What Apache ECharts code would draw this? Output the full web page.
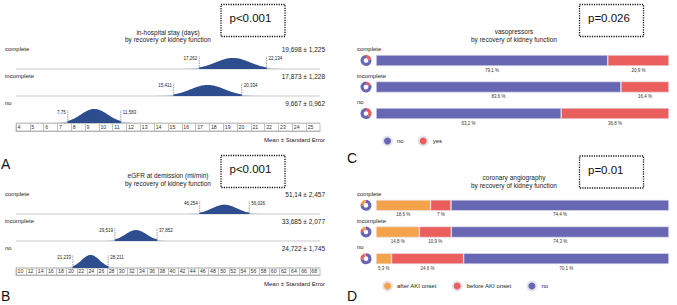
<!DOCTYPE html>
<html>
<head>
<meta charset="UTF-8">
<title>Recovery of kidney function</title>
<script src="https://cdn.jsdelivr.net/npm/echarts@6/dist/echarts.min.js"></script>
<style>
    html, body { margin: 0; padding: 0; background: #fff; }
    #chart { width: 677px; height: 305px; }
</style>
</head>
<body>
<div id="chart"></div>
<script>
    var groups = ['complete', 'incomplete', 'no'];

    // A: in-hospital stay (days), mean, standard error, 95% limits
    var stayMean = [19.698, 17.873, 9.667];
    var staySE = [1.225, 1.228, 0.962];
    var stayLow = [17.262, 15.411, 7.75];
    var stayHigh = [22.134, 20.334, 11.583];

    // B: eGFR at demission (ml/min)
    var egfrMean = [51.14, 33.685, 24.722];
    var egfrSE = [2.457, 2.077, 1.745];
    var egfrLow = [46.254, 29.519, 21.233];
    var egfrHigh = [56.026, 37.852, 28.211];

    // C: vasopressors (%)
    var vasoLabels = ['no', 'yes'];
    var vasoNo = [79.1, 83.6, 63.2];
    var vasoYes = [20.9, 16.4, 36.8];

    // D: coronary angiography (%)
    var coroLabels = ['after AKI onset', 'before AKI onset', 'no'];
    var coroAfter = [18.6, 14.8, 5.3];
    var coroBefore = [7, 10.9, 24.6];
    var coroNo = [74.4, 74.3, 70.1];

    var BLUE = '#6767b3', RED = '#ea5e5e', ORANGE = '#f4a24b';
    var NAVY = '#2e4d8f', PALE = '#b4c3df';
    var FONT = 'Liberation Sans';

    var chart = echarts.init(document.getElementById('chart'), null, { renderer: 'svg' });

    function comma(v) { return String(v).replace('.', ','); }

    // rows are stacked bottom-up: complete on top
    function bellData(mean, se, lo, hi) {
        return groups.map(function (g, i) {
            return [mean[i], se[i], lo[i], hi[i], groups.length - 1 - i];
        });
    }

    // draws a normal curve for each group, shaded between the 95% limits
    function bellItem(peak) {
        return function (params, api) {
            var i = params.dataIndex;
            var mean = api.value(0), se = api.value(1), lo = api.value(2), hi = api.value(3), row = api.value(4);
            var cs = params.coordSys;
            var base = api.coord([mean, row])[1];
            var h = peak / se;
            function pt(v) {
                var z = (v - mean) / se;
                return [api.coord([v, row])[0], base - h * Math.exp(-z * z / 2)];
            }
            var tail = [], core = [], k;
            for (k = -60; k <= 60; k++) tail.push(pt(mean + k * se / 15));
            tail.push([tail[tail.length - 1][0], base], [tail[0][0], base]);
            for (k = 0; k <= 60; k++) core.push(pt(lo + (hi - lo) * k / 60));
            var xl = api.coord([lo, row])[0], xh = api.coord([hi, row])[0];
            core.push([xh, base], [xl, base]);
            var txt = { fontFamily: FONT, fill: '#222' };
            return {
                type: 'group',
                children: [
                    { type: 'line', shape: { x1: cs.x, y1: base, x2: cs.x + cs.width, y2: base },
                      style: { stroke: '#c9c9c9', lineWidth: 1 } },
                    { type: 'polygon', shape: { points: tail }, style: { fill: PALE } },
                    { type: 'polygon', shape: { points: core }, style: { fill: NAVY } },
                    { type: 'line', shape: { x1: xl, y1: base, x2: xl, y2: base - 13 },
                      style: { stroke: '#555', lineWidth: 0.6, lineDash: [1.5, 1] } },
                    { type: 'line', shape: { x1: xh, y1: base, x2: xh, y2: base - 13 },
                      style: { stroke: '#555', lineWidth: 0.6, lineDash: [1.5, 1] } },
                    { type: 'text', style: Object.assign({ text: comma(lo), x: xl - 2, y: base - 10.5,
                      align: 'right', verticalAlign: 'middle', fontSize: 4.5 }, txt) },
                    { type: 'text', style: Object.assign({ text: comma(hi), x: xh + 2, y: base - 10.5,
                      align: 'left', verticalAlign: 'middle', fontSize: 4.5 }, txt) },
                    { type: 'text', style: Object.assign({ text: groups[i], x: cs.x - 11, y: base - 20,
                      align: 'left', verticalAlign: 'middle', fontSize: 6 }, txt) },
                    { type: 'text', style: Object.assign({ text: comma(mean) + ' \u00b1 ' + comma(se),
                      x: cs.x + cs.width + 5, y: base - 20, align: 'right', verticalAlign: 'middle', fontSize: 6.5 }, txt) }
                ]
            };
        };
    }

    function boxAxis(idx, min, max, step) {
        return {
            type: 'value', gridIndex: idx, min: min, max: max, interval: step,
            axisLine: { show: true, lineStyle: { color: '#999', width: 0.6 } },
            axisTick: { show: true, inside: true, length: 7.5, lineStyle: { color: '#999', width: 0.6 } },
            axisLabel: { inside: true, margin: 3.75, align: 'left', verticalAlign: 'middle', padding: [0, 0, 0, 1.5],
                         fontSize: 5.2, color: '#333', fontFamily: FONT, showMaxLabel: false },
            splitLine: { show: false },
            name: 'Mean \u00b1 Standard Error', nameLocation: 'end', nameGap: 5,
            nameTextStyle: { align: 'right', verticalAlign: 'top', padding: [6, 0, 0, 0], fontSize: 6,
                             color: '#222', fontFamily: FONT }
        };
    }

    function hiddenAxis(type, idx, min, max) {
        return { type: type, gridIndex: idx, min: min, max: max, show: false };
    }

    function catAxis(idx) {
        return {
            type: 'category', gridIndex: idx, data: groups, inverse: true,
            axisLine: { show: false }, axisTick: { show: false },
            axisLabel: { interval: 0, margin: 19, align: 'left', verticalAlign: 'bottom', padding: [0, 0, 8.5, 0],
                         fontSize: 6, color: '#222', fontFamily: FONT }
        };
    }

    var pctLabel = {
        show: true, position: 'bottom', distance: 1.5, fontSize: 4.5, color: '#333', fontFamily: FONT,
        formatter: function (p) { return comma(p.value) + ' %'; }
    };

    function barSeries(name, data, color, idx, stack) {
        return {
            name: name, type: 'bar', stack: stack, xAxisIndex: idx, yAxisIndex: idx, barWidth: 11,
            data: data, silent: true,
            itemStyle: { color: color, borderColor: '#e4e4ee', borderWidth: 0.6 },
            label: pctLabel
        };
    }

    function donut(cx, cy, names, values, colors) {
        return {
            type: 'pie', center: [cx, cy], radius: [2.3, 5.5], silent: true, clockwise: false, startAngle: 90,
            label: { show: false }, labelLine: { show: false },
            data: names.map(function (n, j) {
                return { name: n, value: values[j], itemStyle: { color: colors[j] } };
            })
        };
    }

    var barC = { top: 47.25, height: 79.5 };
    var barD = { top: 192, height: 80 };
    var series = [
        { type: 'custom', xAxisIndex: 0, yAxisIndex: 0, renderItem: bellItem(13.5), silent: true,
          data: bellData(stayMean, staySE, stayLow, stayHigh) },
        { type: 'custom', xAxisIndex: 2, yAxisIndex: 2, renderItem: bellItem(22.7), silent: true,
          data: bellData(egfrMean, egfrSE, egfrLow, egfrHigh) },
        barSeries('no', vasoNo, BLUE, 4, 'c'),
        barSeries('yes', vasoYes, RED, 4, 'c'),
        barSeries('after AKI onset', coroAfter, ORANGE, 5, 'd'),
        barSeries('before AKI onset', coroBefore, RED, 5, 'd'),
        barSeries('no', coroNo, BLUE, 5, 'd')
    ];
    groups.forEach(function (g, i) {
        var cyC = barC.top + (i + 0.5) * barC.height / groups.length;
        var cyD = barD.top + (i + 0.5) * barD.height / groups.length;
        series.push(donut(366, cyC, vasoLabels, [vasoNo[i], vasoYes[i]], [BLUE, RED]));
        series.push(donut(366, cyD, coroLabels, [coroAfter[i], coroBefore[i], coroNo[i]], [ORANGE, RED, BLUE]));
    });

    function pBox(x, y, text) {
        return [
            { type: 'rect', left: x, top: y, shape: { x: 0, y: 0, width: 64, height: 32 },
              style: { fill: 'none', stroke: '#111', lineWidth: 1.3, lineDash: [1.2, 1.2] } },
            { type: 'text', left: x + 11, top: y + 10,
              style: { text: text, fontSize: 11.5, fill: '#111', fontFamily: FONT } }
        ];
    }
    function letter(x, y, t) {
        return { type: 'text', left: x, top: y, style: { text: t, fontSize: 14, fill: '#111', fontFamily: FONT } };
    }

    function chartTitle(x, y, text) {
        return { text: text, left: x, top: y, textAlign: 'center', padding: 0,
                 textStyle: { fontSize: 6.5, lineHeight: 7.5, fontWeight: 'normal', color: '#222', fontFamily: FONT } };
    }

    var option = {
        animation: false,
        backgroundColor: '#fff',
        title: [
            chartTitle(168, 28.5, 'in-hospital stay (days)\nby recovery of kidney function'),
            chartTitle(168, 172, 'eGFR at demission (ml/min)\nby recovery of kidney function'),
            chartTitle(514, 28, 'vasopressors\nby recovery of kidney function'),
            chartTitle(514, 174, 'coronary angiography\nby recovery of kidney function')
        ],
        legend: [
            { data: vasoLabels, left: 377, top: 130.5, icon: 'circle', itemWidth: 9, itemHeight: 9, itemGap: 14,
              selectedMode: false, textStyle: { fontSize: 6, color: '#222', fontFamily: FONT } },
            { data: coroLabels, left: 377, top: 275.5, icon: 'circle', itemWidth: 9, itemHeight: 9, itemGap: 15,
              selectedMode: false, textStyle: { fontSize: 6, color: '#222', fontFamily: FONT } }
        ],
        grid: [
            { left: 16, top: 42, width: 304, height: 81 },
            { left: 16, top: 123.5, width: 304, height: 7.5, show: true, borderColor: '#999', borderWidth: 0.6 },
            { left: 16, top: 187, width: 304, height: 81 },
            { left: 16, top: 268, width: 304, height: 7, show: true, borderColor: '#999', borderWidth: 0.6 },
            { left: 376, top: barC.top, width: 293, height: barC.height },
            { left: 376, top: barD.top, width: 293, height: barD.height }
        ],
        xAxis: [
            hiddenAxis('value', 0, 4, 26),
            boxAxis(1, 4, 26, 1),
            hiddenAxis('value', 2, 10, 70),
            boxAxis(3, 10, 70, 2),
            hiddenAxis('value', 4, 0, 100),
            hiddenAxis('value', 5, 0, 100)
        ],
        yAxis: [
            hiddenAxis('value', 0, 0, 3),
            hiddenAxis('value', 1, 0, 1),
            hiddenAxis('value', 2, 0, 3),
            hiddenAxis('value', 3, 0, 1),
            catAxis(4),
            catAxis(5)
        ],
        graphic: [].concat(
            pBox(218.5, 2, 'p<0.001'),
            pBox(218.5, 153, 'p<0.001'),
            pBox(577, 2, 'p=0.026'),
            pBox(577, 153.5, 'p=0.01'),
            [letter(1, 157, 'A'), letter(1, 289, 'B'), letter(347, 151, 'C'), letter(347, 289, 'D')]
        ),
        series: series
    };

    chart.setOption(option);
</script>
</body>
</html>
